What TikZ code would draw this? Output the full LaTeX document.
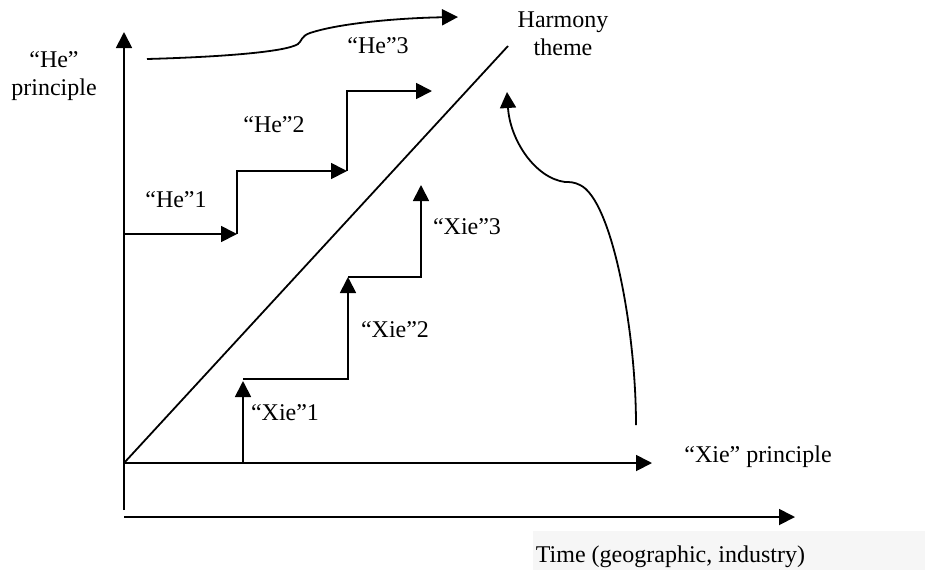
\documentclass[tikz,border=0pt]{standalone}
\usepackage{fontspec}
\setmainfont{Liberation Serif}
\usetikzlibrary{arrows.meta}
\definecolor{timegray}{HTML}{F6F6F6}
\begin{document}
\begin{tikzpicture}[x=1pt,y=-1pt,
  line width=1.8pt,
  arr/.style={-{Triangle[length=16pt,width=16pt]}},
  lbl/.style={inner sep=0pt,font=\fontsize{24}{28}\selectfont,align=center}]
\path[use as bounding box] (0,0) rectangle (925,574);

% key points
\coordinate (O) at (124,463);
\coordinate (Ybot) at (124,510);
\coordinate (Ytop) at (124,32);
\coordinate (Tleft) at (124,517);
\coordinate (Tright) at (795,517);
\coordinate (Xright) at (652,463);
\coordinate (Dtop) at (508,46);

% He steps
\coordinate (h0) at (124,234);
\coordinate (h1) at (237,234);
\coordinate (h1u) at (237,171);
\coordinate (h2) at (347,171);
\coordinate (h2u) at (347,91);
\coordinate (h3) at (432,91);

% Xie steps
\coordinate (x0) at (243,463);
\coordinate (x1) at (243,381);
\coordinate (x1r) at (348,379);
\coordinate (x1b) at (243,379);
\coordinate (x2) at (348,277);
\coordinate (x2r) at (421,277);
\coordinate (x3) at (421,185);

% curves
\coordinate (cTopS) at (147,59);
\coordinate (cTopE) at (458,17);
\coordinate (cRS) at (636,425);
\coordinate (cRE) at (507,92);

% axes
\draw[arr] (Ybot) -- (Ytop);
\draw[arr] (O) -- (Xright);
\draw[arr] (Tleft) -- (Tright);
\draw (O) -- (Dtop);

% He staircase
\draw[arr] (h0) -- (h1);
\draw[arr] (h1) -- (h1u) -- (h2);
\draw[arr] (h2) -- (h2u) -- (h3);

% Xie staircase
\draw[arr] (x0) -- (x1);
\draw[arr] (x1b) -- (x1r) -- (x2);
\draw[arr] (x2) -- (x2r) -- (x3);

% top curve
\draw[arr] (cTopS) .. controls (220,57) and (286,52) .. (298,44)
  .. controls (302,41) and (301,36) .. (310,33)
  .. controls (340,23) and (400,18) .. (cTopE);

% right curve
\draw[arr] (cRS) .. controls (636,330) and (612,200) .. (580,185)
  .. controls (574,182) and (570,182) .. (565,182)
  .. controls (535,178) and (510,140) .. (cRE);

% time label box
\fill[timegray] (533,531) rectangle (925,570);

% labels
\node[lbl] (harmony) at (563,34) {Harmony\\theme};
\node[lbl] (heP) at (54,76) {“He”\\principle};
\node[lbl] (he1) at (176,200) {“He”1};
\node[lbl] (he2) at (274,125) {“He”2};
\node[lbl] (he3) at (378,46) {“He”3};
\node[lbl] (xie1) at (285,413) {“Xie”1};
\node[lbl] (xie2) at (395,330) {“Xie”2};
\node[lbl] (xie3) at (467,227) {“Xie”3};
\node[lbl] (xieP) at (758,457) {“Xie” principle};
\node[lbl,anchor=base west] (time) at (535,562) {Time (geographic, industry)};
\end{tikzpicture}
\end{document}
